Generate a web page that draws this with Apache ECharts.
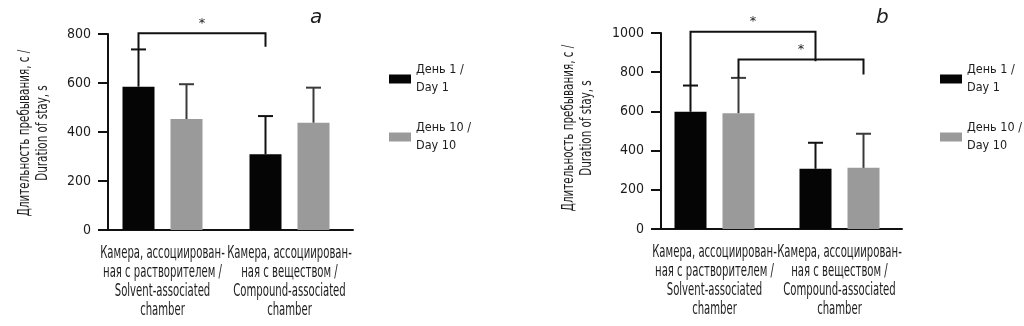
<!DOCTYPE html>
<html>
<head>
<meta charset="utf-8">
<script src="https://cdn.jsdelivr.net/npm/echarts@6/dist/echarts.min.js"></script>
<style>
  html, body { margin: 0; padding: 0; background: #fff; }
  #chart { width: 1024px; height: 326px; }
</style>
</head>
<body>
<div id="chart"></div>
<script>
// Chamber categories (shared by both panels)
const categories = [
  'Камера, ассоциирован-\nная с растворителем /\nSolvent-associated\nchamber',
  'Камера, ассоциирован-\nная с веществом /\nCompound-associated\nchamber'
];
const seriesNames = ['День 1 /\nDay 1', 'День 10 /\nDay 10'];
const panelLetters = ['a', 'b'];
const yAxisName = 'Длительность пребывания, с /\nDuration of stay, s';

// Panel a: mean duration and top of the error bar (mean + SD)
const day1A = [585, 309];
const day1AUpper = [737, 465];
const day10A = [453, 438];
const day10AUpper = [595, 581];
const yMaxA = 800;

// Panel b
const day1B = [598, 307];
const day1BUpper = [732, 440];
const day10B = [591, 312];
const day10BUpper = [771, 486];
const yMaxB = 1000;
const yStep = 200;

// Significance brackets: [fromCategory, fromSeries, toCategory, toSeries, level, leftFoot, rightFoot]
const bracketsA = [[0, 0, 1, 0, 803, 737, 748]];
const bracketsB = [
  [0, 0, 1, 0, 1006, 732, 856],
  [0, 1, 1, 1, 865, 771, 788]
];

const FAMILY = '"DejaVu Sans Condensed", "Liberation Sans Narrow", sans-serif';
const INK = '#1c1c1c';
const BLACK = '#050505';
const GRAY = '#9a9a9a';
const BAR_W = 32;
const BAR_GAP = 0.5;
const BAR_SHIFT = (BAR_W + BAR_W * BAR_GAP) / 2;
const CAP = 15;

function shiftFor(seriesIdx) {
  return seriesIdx === 0 ? -BAR_SHIFT : BAR_SHIFT;
}

function barSeries(axisIdx, name, values, color) {
  return {
    type: 'bar', name: name, xAxisIndex: axisIdx, yAxisIndex: axisIdx,
    data: values, barWidth: BAR_W, barGap: (BAR_GAP * 100) + '%',
    itemStyle: { color: color }, silent: true, z: 2
  };
}

function errorSeries(axisIdx, seriesIdx, values, uppers, color) {
  return {
    type: 'custom', xAxisIndex: axisIdx, yAxisIndex: axisIdx, z: 3, silent: true, clip: false,
    data: values.map((v, i) => [i, v, uppers[i]]),
    renderItem(params, api) {
      const base = api.coord([api.value(0), api.value(1)]);
      const top = api.coord([api.value(0), api.value(2)]);
      const x = base[0] + shiftFor(seriesIdx);
      const st = { stroke: color, lineWidth: 2 };
      return {
        type: 'group', children: [
          { type: 'line', shape: { x1: x, y1: base[1], x2: x, y2: top[1] }, style: st },
          { type: 'line', shape: { x1: x - CAP / 2, y1: top[1], x2: x + CAP / 2, y2: top[1] }, style: st }
        ]
      };
    }
  };
}

function bracketSeries(axisIdx, brackets) {
  return {
    type: 'custom', xAxisIndex: axisIdx, yAxisIndex: axisIdx, z: 4, silent: true, clip: false,
    data: brackets.map(b => [b[0], b[4]]),
    renderItem(params, api) {
      const b = brackets[params.dataIndex];
      const x1 = api.coord([b[0], b[4]])[0] + shiftFor(b[1]);
      const x2 = api.coord([b[2], b[4]])[0] + shiftFor(b[3]);
      const yL = api.coord([b[0], b[4]])[1];
      const yA = api.coord([b[0], b[5]])[1];
      const yB = api.coord([b[2], b[6]])[1];
      return {
        type: 'group', children: [
          { type: 'polyline', shape: { points: [[x1, yA], [x1, yL], [x2, yL], [x2, yB]] },
            style: { stroke: '#111', lineWidth: 2, fill: null } },
          { type: 'text', x: (x1 + x2) / 2, y: yL - 10,
            style: { text: '*', font: '13px "DejaVu Sans"', fill: INK, align: 'center', verticalAlign: 'middle' } }
        ]
      };
    }
  };
}

// Chamber names under each category tick, in narrow lettering
function categoryLabelSeries(axisIdx) {
  return {
    type: 'custom', xAxisIndex: axisIdx, yAxisIndex: axisIdx, z: 5, silent: true, clip: false,
    data: categories.map((c, i) => [i, 0]),
    renderItem(params, api) {
      const p = api.coord([api.value(0), api.value(1)]);
      return {
        type: 'text', x: p[0], y: p[1] + 14, scaleX: 0.66,
        style: {
          text: categories[params.dataIndex], font: '17px ' + FAMILY, lineHeight: 19,
          fill: INK, align: 'center', verticalAlign: 'top'
        }
      };
    }
  };
}

function xAxis(gridIdx) {
  return {
    type: 'category', gridIndex: gridIdx, data: categories,
    axisLine: { lineStyle: { color: '#111', width: 2 } },
    axisTick: { alignWithLabel: true, length: 7, lineStyle: { color: '#111', width: 2 } },
    axisLabel: { show: false }
  };
}

function yAxis(gridIdx, max, off) {
  return {
    type: 'value', gridIndex: gridIdx, min: 0, max: max, interval: yStep, offset: off,
    splitLine: { show: false },
    axisLine: { show: true, lineStyle: { color: '#111', width: 2 } },
    axisTick: { show: true, length: 10, lineStyle: { color: '#111', width: 2 } },
    axisLabel: { color: INK, fontFamily: FAMILY, fontSize: 14, margin: 17, formatter: v => String(v) }
  };
}

function legend(left) {
  return {
    data: seriesNames, orient: 'vertical', left: left, top: 56,
    icon: 'rect', itemWidth: 22, itemHeight: 9, itemGap: 22, itemStyle: { borderWidth: 0 }, selectedMode: false,
    textStyle: { color: INK, fontFamily: FAMILY, fontSize: 12.5, lineHeight: 18 }
  };
}

function yName(x, y) {
  return {
    type: 'text', x: x, y: y, rotation: Math.PI / 2, scaleX: 0.72, silent: true,
    style: { text: yAxisName, font: '16px ' + FAMILY, lineHeight: 18, fill: INK, align: 'center', verticalAlign: 'middle' }
  };
}

const chart = echarts.init(document.getElementById('chart'), null, { renderer: 'canvas' });
chart.setOption({
  animation: false,
  backgroundColor: '#fff',
  title: [
    { text: panelLetters[0], left: 305, top: 3,
      textStyle: { fontFamily: 'DejaVu Sans', fontStyle: 'italic', fontWeight: 'normal', fontSize: 20, color: INK } },
    { text: panelLetters[1], left: 871, top: 3,
      textStyle: { fontFamily: 'DejaVu Sans', fontStyle: 'italic', fontWeight: 'normal', fontSize: 20, color: INK } }
  ],
  legend: [legend(384), legend(935)],
  graphic: [yName(34, 133), yName(578, 128)],
  grid: [
    { left: 99, top: 34, width: 254, height: 196 },
    { left: 652, top: 33, width: 250, height: 196 }
  ],
  xAxis: [xAxis(0), xAxis(1)],
  yAxis: [yAxis(0, yMaxA, -9), yAxis(1, yMaxB, -9)],
  series: [
    barSeries(0, seriesNames[0], day1A, BLACK),
    barSeries(0, seriesNames[1], day10A, GRAY),
    barSeries(1, seriesNames[0], day1B, BLACK),
    barSeries(1, seriesNames[1], day10B, GRAY),
    errorSeries(0, 0, day1A, day1AUpper, '#111'),
    errorSeries(0, 1, day10A, day10AUpper, '#3a3a3a'),
    errorSeries(1, 0, day1B, day1BUpper, '#111'),
    errorSeries(1, 1, day10B, day10BUpper, '#3a3a3a'),
    bracketSeries(0, bracketsA),
    bracketSeries(1, bracketsB),
    categoryLabelSeries(0),
    categoryLabelSeries(1)
  ]
});
</script>
</body>
</html>
